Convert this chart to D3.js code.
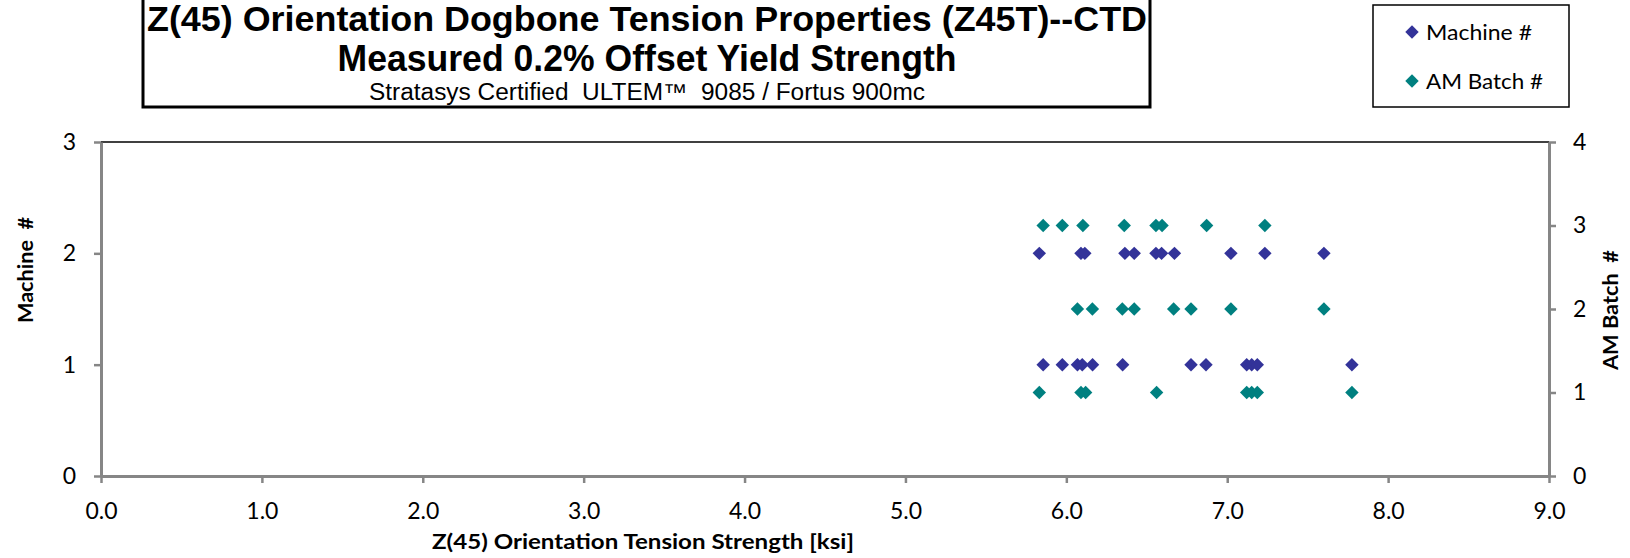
<!DOCTYPE html>
<html><head><meta charset="utf-8">
<script src="https://cdn.jsdelivr.net/npm/d3@7"></script>
<style>
html,body{margin:0;padding:0;background:#fff;}
svg{display:block;}
text{white-space:pre;}
</style></head>
<body>
<svg id="chart" width="1630" height="558"></svg>
<script>
// ---- data ----
const titleLines = [
  "Z(45) Orientation Dogbone Tension Properties (Z45T)--CTD",
  "Measured 0.2% Offset Yield Strength",
  "Stratasys Certified  ULTEM\u2122  9085 / Fortus 900mc"
];
const xTitle = "Z(45) Orientation Tension Strength [ksi]";
const yLeftTitle = "Machine  #";
const yRightTitle = "AM Batch  #";
const seriesNames = ["Machine #", "AM Batch #"];
const seriesColors = ["#333399", "#008080"];
const xTicks = [0, 1, 2, 3, 4, 5, 6, 7, 8, 9];
const yLeftTicks = [0, 1, 2, 3];
const yRightTicks = [0, 1, 2, 3, 4];

// Machine # series (strength, machine number)
const machine1 = [5.856, 5.975, 6.069, 6.099, 6.163, 6.350, 6.775, 6.868, 7.121, 7.152, 7.187, 7.775];
const machine2 = [5.832, 6.091, 6.115, 6.364, 6.422, 6.557, 6.592, 6.672, 7.023, 7.234, 7.601];
// AM Batch # series (strength, batch number)
const batch1 = [5.832, 6.091, 6.120, 6.561, 7.121, 7.152, 7.187, 7.775];
const batch2 = [6.069, 6.162, 6.348, 6.422, 6.667, 6.775, 7.023, 7.601];
const batch3 = [5.856, 5.975, 6.103, 6.360, 6.557, 6.595, 6.872, 7.234];

const machinePts = [].concat(
  machine1.map(v => ({x: v, y: 1})),
  machine2.map(v => ({x: v, y: 2})));
const batchPts = [].concat(
  batch1.map(v => ({x: v, y: 1})),
  batch2.map(v => ({x: v, y: 2})),
  batch3.map(v => ({x: v, y: 3})));

// ---- layout ----
const svg = d3.select("#chart");
const L = 101, R = 1549, T = 142, B = 476;
const x = d3.scaleLinear().domain([0, 9]).range([L, R]);
const yL = d3.scaleLinear().domain([0, 3]).range([B, T]);
const yR = d3.scaleLinear().domain([0, 4]).range([B, T]);
const axisColor = "#868686";
const tickFont = "Lato, 'Open Sans', sans-serif";

// top border
svg.append("line").attr("x1", L).attr("x2", R).attr("y1", T).attr("y2", T)
  .attr("stroke", "#000").attr("stroke-width", 1.3);

function styleAxis(g) {
  g.select(".domain").attr("stroke", axisColor).attr("stroke-width", 3);
  g.selectAll(".tick line").attr("stroke", axisColor).attr("stroke-width", 2.5);
  g.selectAll(".tick text").attr("fill", "#000").style("font-family", tickFont).style("font-size", "23px");
}

const gx = svg.append("g").attr("transform", `translate(0,${B})`)
  .call(d3.axisBottom(x).tickValues(xTicks).tickFormat(d3.format(".1f")).tickSize(7).tickSizeOuter(0).tickPadding(20));
styleAxis(gx);

const gl = svg.append("g").attr("transform", `translate(${L},0)`)
  .call(d3.axisLeft(yL).tickValues(yLeftTicks).tickFormat(d3.format("d")).tickSize(7).tickSizeOuter(0).tickPadding(18));
styleAxis(gl);

const gr = svg.append("g").attr("transform", `translate(${R},0)`)
  .call(d3.axisRight(yR).tickValues(yRightTicks).tickFormat(d3.format("d")).tickSize(7).tickSizeOuter(0).tickPadding(17));
styleAxis(gr);

// axis titles
svg.append("text").text(xTitle)
  .attr("x", 643).attr("y", 549).attr("text-anchor", "middle")
  .attr("textLength", 422).attr("lengthAdjust", "spacingAndGlyphs")
  .style("font-family", tickFont).style("font-weight", "bold").style("font-size", "21px");

svg.append("text").text(yLeftTitle)
  .attr("transform", "translate(33,270) rotate(-90)").attr("text-anchor", "middle")
  .attr("textLength", 106).attr("lengthAdjust", "spacingAndGlyphs")
  .style("font-family", tickFont).style("font-weight", "bold").style("font-size", "21px");

svg.append("text").text(yRightTitle)
  .attr("transform", "translate(1618,310) rotate(-90)").attr("text-anchor", "middle")
  .attr("textLength", 120).attr("lengthAdjust", "spacingAndGlyphs")
  .style("font-family", tickFont).style("font-weight", "bold").style("font-size", "21px");

// markers
const diamond = d3.symbol().type(d3.symbolSquare).size(90)();
svg.append("g").selectAll("path").data(machinePts).join("path")
  .attr("d", diamond)
  .attr("transform", d => `translate(${x(d.x)},${yL(d.y)}) rotate(45)`)
  .attr("fill", seriesColors[0]);
svg.append("g").selectAll("path").data(batchPts).join("path")
  .attr("d", diamond)
  .attr("transform", d => `translate(${x(d.x)},${yR(d.y)}) rotate(45)`)
  .attr("fill", seriesColors[1]);

// title box
svg.append("rect").attr("x", 143).attr("y", -10).attr("width", 1007).attr("height", 117)
  .attr("fill", "#fff").attr("stroke", "#000").attr("stroke-width", 3);
const titleFont = "'Liberation Sans', Arial, sans-serif";
const tl = [
  {t: titleLines[0], y: 31, size: 35, w: 1000, bold: true},
  {t: titleLines[1], y: 71, size: 36, w: 619, bold: true},
  {t: titleLines[2], y: 100, size: 23, w: 556, bold: false}
];
tl.forEach(d => {
  svg.append("text").text(d.t).attr("x", 647).attr("y", d.y)
    .attr("text-anchor", "middle").attr("textLength", d.w).attr("lengthAdjust", "spacingAndGlyphs")
    .style("font-family", titleFont).style("font-weight", d.bold ? "bold" : "normal")
    .style("font-size", d.size + "px");
});

// legend
svg.append("rect").attr("x", 1373).attr("y", 5).attr("width", 196).attr("height", 102)
  .attr("fill", "#fff").attr("stroke", "#000").attr("stroke-width", 1.5);
const legY = [32, 81];
const legW = [106, 117];
seriesNames.forEach((n, i) => {
  svg.append("path").attr("d", diamond)
    .attr("transform", `translate(1412,${legY[i]}) rotate(45)`)
    .attr("fill", seriesColors[i]);
  svg.append("text").text(n).attr("x", 1426).attr("y", legY[i] + 8)
    .attr("textLength", legW[i]).attr("lengthAdjust", "spacingAndGlyphs")
    .style("font-family", tickFont).style("font-size", "22px");
});
</script>
</body></html>
